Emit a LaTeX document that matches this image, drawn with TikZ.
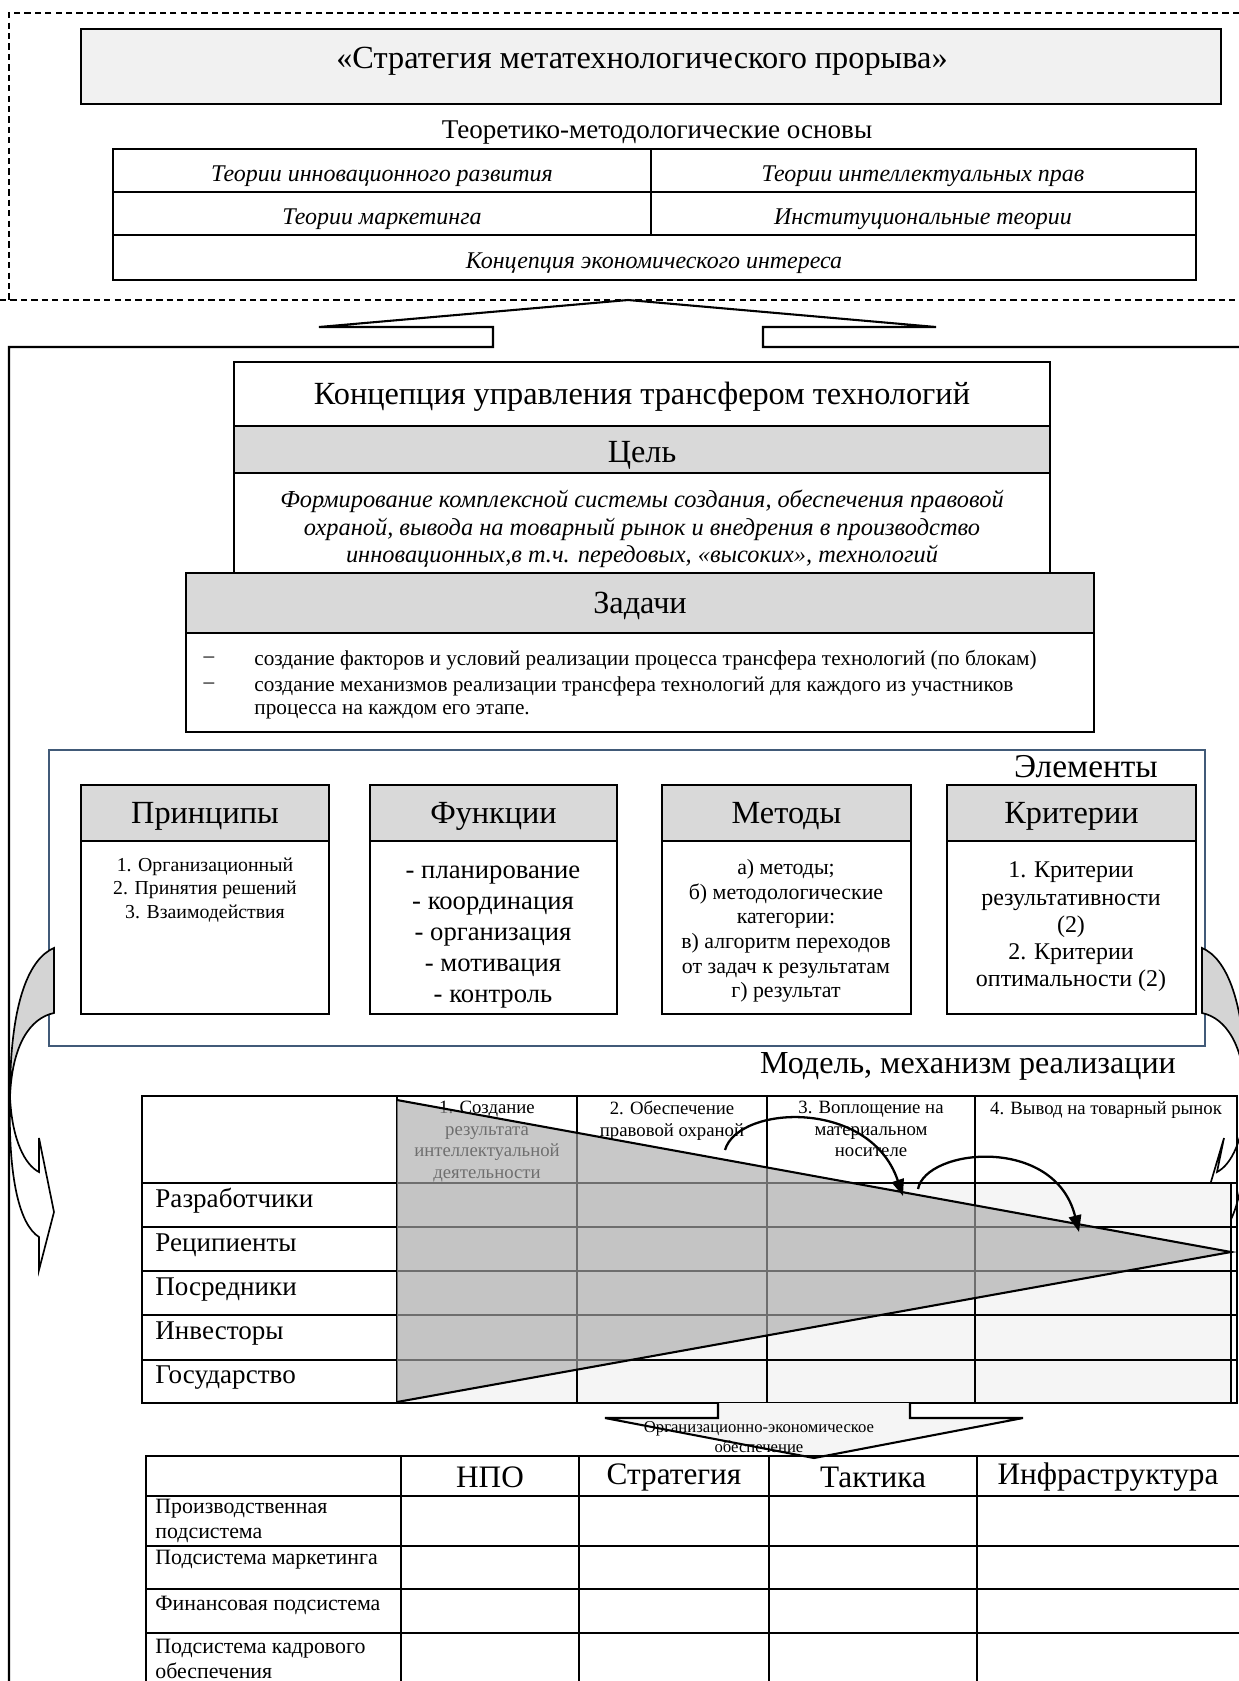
\documentclass[tikz,border=0pt]{standalone}
\usepackage{fontspec}
\setmainfont{Liberation Serif}
\usetikzlibrary{calc}
\usetikzlibrary{arrows.meta}
\usetikzlibrary{positioning}

\definecolor{headgray}{RGB}{217,217,217}
\definecolor{titlegray}{RGB}{241,241,241}
\definecolor{lightfill}{RGB}{245,245,245}
\definecolor{trigray}{RGB}{170,170,170}
\definecolor{elemblue}{RGB}{65,90,120}
\definecolor{armgray}{RGB}{212,212,212}

\tikzset{
 fs/.style 2 args={font=\fontsize{#1}{#2}\selectfont},
 fsi/.style 2 args={font=\fontsize{#1}{#2}\selectfont\itshape},
 box/.style={draw, line width=1pt},
 txt/.style={inner sep=0pt, align=center},
 arr/.style={line width=1.1pt, -{Triangle[length=8pt,width=6pt]}},
}

\begin{document}
\begin{tikzpicture}[x=0.48pt, y=-0.48pt]
\useasboundingbox (0,0) rectangle (1239,1681);

% theoretical base
\draw[line width=.6pt, dash pattern=on 3pt off 2pt] (1239,13) -- (9,13) -- (9,300);
\draw[line width=.6pt, dash pattern=on 3pt off 2pt] (0,300) -- (1239,300);
\draw[box, fill=titlegray] (81,29) rectangle (1221,104);
\node[txt, fs={15.5}{19}] (strat) at (642,61) {«Стратегия метатехнологического прорыва»};
\node[txt, fs={13}{15}] (osn) at (657,133) {Теоретико-методологические основы};
\draw[box] (113,149) rectangle (1196,280);
\draw[box] (113,192) -- (1196,192) (113,235) -- (1196,235) (651,149) -- (651,235);
\node[txt, fsi={11.5}{14}] (innov) at (382,176) {Теории инновационного развития};
\node[txt, fsi={11.5}{14}] (intel) at (923,176) {Теории интеллектуальных прав};
\node[txt, fsi={11.5}{14}] (mark) at (382,219) {Теории маркетинга};
\node[txt, fsi={11.5}{14}] (inst) at (923,219) {Институциональные теории};
\node[txt, fsi={11.5}{14}] (inter) at (654,263) {Концепция экономического интереса};

% up arrow and main frame
\draw[box] (9,1681) -- (9,347) -- (493,347) -- (493,327) -- (319,327) -- (628,300)
  -- (936,327) -- (763,327) -- (763,347) -- (1239,347);

% concept
\draw[box] (234,362) rectangle (1050,573);
\draw[box, fill=headgray] (234,426) rectangle (1050,473);
\node[txt, fs={15.5}{19}] (conc) at (642,397) {Концепция управления трансфером технологий};
\node[txt, fs={15.5}{19}] (goal) at (642,455) {Цель};
\node[txt, fsi={11.7}{13.2}] (goaltxt) at (642,529) {Формирование комплексной системы создания, обеспечения правовой\\
  охраной, вывода на товарный рынок и внедрения в производство\\
  инновационных,в т.ч. передовых, «высоких», технологий};
\draw[box, fill=headgray] (186,573) rectangle (1094,633);
\draw[box] (186,633) rectangle (1094,732);
\node[txt, fs={15.5}{19}] (task) at (640,606) {Задачи};
\node[txt, fs={10.2}{12}] (d1) at (209,660) {–};
\node[txt, fs={10.2}{12}] (d2) at (209,686) {–};
\node[txt, fs={10.2}{12}, anchor=west] (t1) at (254,660) {создание факторов и условий реализации процесса трансфера технологий (по блокам)};
\node[txt, fs={10.2}{12}, anchor=west] (t2) at (254,686) {создание механизмов реализации трансфера технологий для каждого из участников};
\node[txt, fs={10.2}{12}, anchor=west] (t3) at (254,712) {процесса на каждом его этапе.};

% elements
\draw[elemblue, line width=.7pt] (49,750) rectangle (1205,1046);
\node[txt, fs={16}{19}] (elem) at (1086,767) {Элементы};
\foreach \xa/\xb/\name/\head in {81/329/princ/Принципы, 370/617/func/Функции, 662/911/meth/Методы, 947/1196/crit/Критерии} {
 \draw[box, fill=headgray] (\xa,785) rectangle (\xb,841);
 \draw[box] (\xa,841) rectangle (\xb,1014);
 \node[txt, fs={15.5}{19}] (\name) at ({(\xa+\xb)/2},816) {\head};
}
\node[txt, fs={9.5}{11.3}] (princtxt) at (205,890) {1. Организационный\\2. Принятия решений\\3. Взаимодействия};
\node[txt, fs={12.8}{14.8}] (functxt) at (493,937) {- планирование\\- координация\\- организация\\- мотивация\\- контроль};
\node[txt, fs={10.5}{11.8}] (methtxt) at (786,931) {а) методы;\\б) методологические\\категории:\\в) алгоритм переходов\\от задач к результатам\\г) результат};
\node[txt, fs={11.5}{13.1}] (crittxt) at (1071,927) {1. Критерии\\результативности\\(2)\\2. Критерии\\оптимальности (2)};

% curved arrows at the sides
\draw[line width=.8pt, fill=armgray] (54,948) .. controls (30,958) and (10,1000) .. (10,1097)
  .. controls (12,1045) and (30,1018) .. (54,1013) -- cycle;
\draw[line width=.8pt] (10,1097) .. controls (12,1140) and (25,1165) .. (39,1172) -- (39,1138)
  -- (54,1212) -- (39,1270) -- (39,1237) .. controls (20,1225) and (8,1180) .. (10,1097);
\draw[line width=.8pt, fill=armgray] (1202,948) .. controls (1226,958) and (1246,1000) .. (1246,1097)
  .. controls (1244,1045) and (1226,1018) .. (1202,1013) -- cycle;
\draw[line width=.8pt] (1246,1097) .. controls (1244,1140) and (1231,1165) .. (1217,1172) -- (1224,1138)
  -- (1202,1212) -- (1217,1270) -- (1217,1237) .. controls (1236,1225) and (1248,1180) .. (1246,1097);

% model
\node[txt, fs={15.4}{19}] (model) at (968,1066) {Модель, механизм реализации};
\node[txt, fs={9}{10.3}, anchor=north] (st1) at (487,1101) {1. Создание\\результата\\интеллектуальной\\деятельности};
\node[txt, fs={9}{10.3}, anchor=north] (st2) at (672,1101) {2. Обеспечение\\правовой охраной};
\node[txt, fs={9}{10.3}, anchor=north] (st3) at (871,1101) {3. Воплощение на\\материальном\\носителе};
\node[txt, fs={9}{10.3}, anchor=north] (st4) at (1106,1101) {4. Вывод на товарный рынок};
\foreach \y/\name/\lab in {1183/dev/Разработчики, 1227/rec/Реципиенты, 1271/med/Посредники, 1315/inv/Инвесторы, 1360/gov/Государство}
 \node[txt, fs={13}{15}, anchor=west] (\name) at (155,\y+18) {\lab};
\fill[lightfill] (397,1183) rectangle (1231,1403);
\draw[box] (142,1096) rectangle (1237,1403);
\foreach \y in {1183,1227,1271,1315,1360}
 \draw[box] (142,\y) -- (1237,\y);
\foreach \x in {397,577,767,975}
 \draw[box] (\x,1096) -- (\x,1403);
\draw[box] (1231,1183) -- (1231,1403);
\coordinate (ta) at (397,1100);
\coordinate (tb) at (1231,1252);
\coordinate (tc) at (397,1402);
\fill[trigray, fill opacity=.65] (ta) -- (tb) -- (tc) -- cycle;
\draw[line width=1pt] (ta) -- (tb) -- (tc);
\coordinate (p1) at (725,1150);
\coordinate (p2) at (903,1196);
\coordinate (q1) at (918,1189);
\coordinate (q2) at (1079,1232);
\draw[arr] (p1) .. controls (738,1105) and (870,1098) .. (p2);
\draw[arr] (q1) .. controls (926,1148) and (1055,1135) .. (q2);

% down arrow
\draw[box, fill=lightfill] (718,1403) -- (718,1418) -- (605,1418) -- (814,1458) -- (1023,1418) -- (910,1418) -- (910,1403);
\node[txt, fs={8}{9.6}] (oes) at (759,1437) {Организационно-экономическое\\обеспечение};

% subsystems
\draw[box] (146,1456) rectangle (1240,1690);
\foreach \y in {1496,1546,1589,1633}
 \draw[box] (146,\y) -- (1240,\y);
\foreach \x in {401,579,769,977}
 \draw[box] (\x,1456) -- (\x,1690);
\foreach \x/\name/\lab in {490/npo/НПО, 674/strg/Стратегия, 873/takt/Тактика, 1108/infr/Инфраструктура}
 \node[txt, fs={15}{18}] (\name) at (\x,1477) {\lab};
\foreach \y/\name/\lab in {1499/prod/{Производственная\\подсистема}, 1550/mkt/{Подсистема маркетинга}, 1596/fin/{Финансовая подсистема}, 1639/hr/{Подсистема кадрового\\обеспечения}}
 \node[fs={10.5}{12}, inner sep=0pt, align=left, anchor=north west] (\name) at (155,\y) {\lab};
\end{tikzpicture}
\end{document}
